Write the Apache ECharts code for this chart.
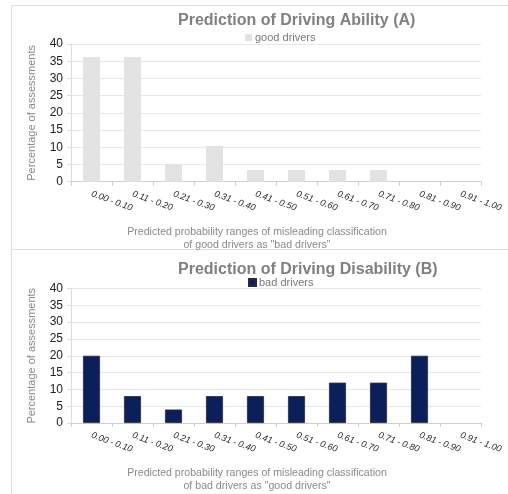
<!DOCTYPE html>
<html><head><meta charset="utf-8">
<script src="https://cdn.jsdelivr.net/npm/echarts@6/dist/echarts.min.js"></script>
<style>html,body{margin:0;padding:0;background:#fff}#c{width:508px;height:494px}</style>
</head><body><div id="c"></div>
<script>
const categories = ["0.00 - 0.10","0.11 - 0.20","0.21 - 0.30","0.31 - 0.40","0.41 - 0.50","0.51 - 0.60","0.61 - 0.70","0.71 - 0.80","0.81 - 0.90","0.91 - 1.00"];
const goodDrivers = [36.2, 36.2, 5.1, 10.4, 3.4, 3.4, 3.4, 3.4, 0, 0];
const badDrivers = [20, 8, 4, 8, 8, 8, 12, 12, 20, 0];
const titleA = "Prediction of Driving Ability (A)";
const titleB = "Prediction of Driving Disability (B)";
const xNameA = 'Predicted probability ranges of misleading classification\nof good drivers as "bad drivers"';
const xNameB = 'Predicted probability ranges of misleading classification\nof bad drivers as "good drivers"';
const yName = "Percentage of assessments";

const font = "Liberation Sans, Arial, sans-serif";
const chart = echarts.init(document.getElementById('c'), null, {renderer:'canvas'});
function xAxis(gi, name){
  return {
    type:'category', gridIndex:gi, data:categories, boundaryGap:true,
    axisLine:{lineStyle:{color:'#cfcfcf'}},
    axisTick:{show:true, length:4, lineStyle:{color:'#cfcfcf'}},
    axisLabel:{rotate:-20, interval:0, margin:12, fontSize:9, fontStyle:'italic', color:'#222', fontFamily:font},
    name:name, nameLocation:'middle', nameGap:44,
    nameTextStyle:{fontSize:10.6, color:'#8a8a8a', fontFamily:font, lineHeight:13, padding:[0,38,0,0]}
  };
}
function yAxis(gi){
  return {
    type:'value', gridIndex:gi, min:0, max:40, interval:5,
    axisLine:{show:true, lineStyle:{color:'#dcdcdc'}},
    axisTick:{show:true, length:4, lineStyle:{color:'#dcdcdc'}},
    axisLabel:{fontSize:12, color:'#222', margin:8, fontFamily:font},
    splitLine:{lineStyle:{color:'#e8e8e8'}},
    name:yName, nameLocation:'middle', nameGap:34, nameRotate:90,
    nameTextStyle:{fontSize:11, color:'#8a8a8a', fontFamily:font}
  };
}
const badData = badDrivers.map(v => v === 0 ? {value:v, itemStyle:{borderWidth:0}} : v);
chart.setOption({
  animation:false,
  backgroundColor:'#fff',
  title:[
    {text:titleA, left:173, top:8, textStyle:{fontSize:16, fontWeight:'bold', color:'#808080', fontFamily:font}},
    {text:titleB, left:173, top:257, textStyle:{fontSize:16, fontWeight:'bold', color:'#808080', fontFamily:font}}
  ],
  legend:[
    {data:['good drivers'], left:240, top:27, itemWidth:7, itemHeight:7, itemGap:4, icon:'rect',
     textStyle:{fontSize:11, color:'#7a7a7a', fontFamily:font, padding:[0,0,0,-2]}},
    {data:['bad drivers'], left:243, top:272, itemWidth:7, itemHeight:7, icon:'rect',
     textStyle:{fontSize:11, color:'#7a7a7a', fontFamily:font, padding:[0,0,0,-2]}}
  ],
  grid:[
    {left:71, right:27, top:44, height:137.7},
    {left:71, right:27, top:288.5, height:138.2}
  ],
  xAxis:[xAxis(0, xNameA), xAxis(1, xNameB)],
  yAxis:[yAxis(0), yAxis(1)],
  series:[
    {name:'good drivers', type:'bar', xAxisIndex:0, yAxisIndex:0, data:goodDrivers, barWidth:17,
     itemStyle:{color:'#e3e3e3'}},
    {name:'bad drivers', type:'bar', xAxisIndex:1, yAxisIndex:1, data:badData, barWidth:17,
     itemStyle:{color:'#0b1f5a', borderColor:'#2a2a3a', borderWidth:0.8}}
  ],
  graphic:[
    {type:'rect', left:9, top:3, shape:{width:497, height:244}, style:{fill:null, stroke:'#dedede', lineWidth:1}, silent:true},
    {type:'rect', left:9, top:247, shape:{width:497, height:252}, style:{fill:null, stroke:'#dedede', lineWidth:1}, silent:true}
  ]
});
</script></body></html>
